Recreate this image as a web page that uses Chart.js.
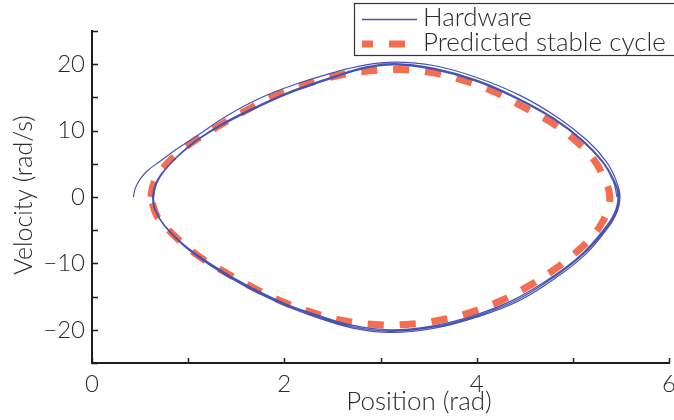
<!DOCTYPE html>
<html>
<head>
<meta charset="utf-8">
<script src="https://cdn.jsdelivr.net/npm/chart.js@4/dist/chart.umd.min.js"></script>
<style>
  html, body { margin: 0; padding: 0; background: #fff; }
  #wrap { width: 674px; height: 420px; }
</style>
</head>
<body>
<div id="wrap"><canvas id="c" width="674" height="420"></canvas></div>
<script>
// ---------- data ----------
const seriesLabels = ['Hardware', 'Predicted stable cycle'];
const xTitle = 'Position (rad)';
const yTitle = 'Velocity (rad/s)';

const xTickValues = [0, 1, 2, 3, 4, 5, 6];
const xTickLabels = ['0', '', '2', '', '4', '', '6'];
const yTickValues = [-25, -20, -15, -10, -5, 0, 5, 10, 15, 20, 25];
const yTickLabels = ['', '\u221220', '', '\u221210', '', '0', '', '10', '', '20', ''];

// Hardware: start-up transient (outer thin line) then several laps
const hwTransient = [
  [0.43, 0.0], [0.45, 1.3], [0.50, 2.7], [0.58, 4.0], [0.70, 5.3], [0.90, 7.4],
  [1.10, 9.3], [1.40, 12.2], [1.75, 14.9], [2.10, 16.9], [2.50, 18.7], [2.85, 19.9],
  [3.15, 20.3], [3.55, 19.8], [4.00, 18.0], [4.45, 15.3], [4.85, 11.9], [5.15, 8.5],
  [5.35, 5.3], [5.45, 2.5], [5.49, 0.0]
];
const hwLap1 = [
  [5.49, 0.0], [5.45, -2.6], [5.33, -5.3], [5.12, -8.8], [4.83, -12.1], [4.43, -15.7],
  [4.00, -18.1], [3.55, -19.8], [3.10, -20.4], [2.70, -19.7], [2.35, -18.2], [2.00, -16.3],
  [1.60, -13.5], [1.25, -10.5], [0.95, -7.3], [0.76, -4.4], [0.66, -1.9], [0.64, 0.0],
  [0.67, 2.0], [0.76, 4.1], [0.91, 6.4], [1.11, 8.8], [1.40, 11.4], [1.75, 13.9],
  [2.10, 16.1], [2.50, 18.1], [2.85, 19.6], [3.15, 20.1], [3.55, 19.4], [4.00, 17.6],
  [4.40, 15.1], [4.80, 11.9], [5.10, 8.6], [5.31, 5.4], [5.43, 2.5], [5.48, 0.0]
];
const hwLap2 = [
  [5.48, 0.0], [5.44, -2.6], [5.32, -5.2], [5.11, -8.6], [4.82, -11.9], [4.42, -15.5],
  [4.00, -17.9], [3.55, -19.6], [3.10, -20.2], [2.70, -19.5], [2.35, -18.0], [2.00, -16.1],
  [1.60, -13.3], [1.25, -10.3], [0.95, -7.2], [0.75, -4.3], [0.65, -1.8], [0.63, 0.0],
  [0.66, 2.0], [0.75, 4.0], [0.90, 6.3], [1.10, 8.7], [1.40, 11.3], [1.75, 13.8],
  [2.10, 16.0], [2.50, 18.0], [2.85, 19.5], [3.15, 20.0], [3.55, 19.3], [4.00, 17.5],
  [4.40, 15.0], [4.80, 11.8], [5.10, 8.5], [5.31, 5.3], [5.43, 2.4], [5.47, 0.0]
];
const hwLap3 = [
  [5.47, 0.0], [5.43, -2.5], [5.31, -5.1], [5.10, -8.5], [4.81, -11.8], [4.41, -15.3],
  [4.00, -17.7], [3.55, -19.4], [3.10, -20.0], [2.70, -19.3], [2.35, -17.8], [2.00, -16.0],
  [1.60, -13.2], [1.25, -10.2], [0.95, -7.1], [0.75, -4.2], [0.65, -1.8], [0.63, 0.0],
  [0.66, 2.0], [0.75, 4.0], [0.90, 6.2], [1.10, 8.6], [1.40, 11.2], [1.75, 13.7],
  [2.10, 15.9], [2.50, 17.9], [2.85, 19.4], [3.15, 19.9], [3.55, 19.2], [4.00, 17.4],
  [4.40, 14.9], [4.80, 11.7], [5.10, 8.4], [5.31, 5.2], [5.42, 2.4], [5.46, 0.0]
];

// Predicted stable cycle
const predicted = [
  [0.61, 0.0], [0.64, 2.0], [0.72, 4.0], [0.86, 6.2], [1.05, 8.3], [1.33, 10.8],
  [1.61, 13.1], [1.92, 15.4], [2.23, 17.0], [2.56, 18.3], [2.89, 19.0], [3.20, 19.2],
  [3.55, 18.7], [3.88, 17.5], [4.19, 15.8], [4.48, 13.6], [4.78, 11.2], [5.05, 8.2],
  [5.22, 5.6], [5.32, 3.0], [5.38, 0.6], [5.37, -1.6], [5.31, -3.7], [5.21, -5.8],
  [5.06, -8.0], [4.81, -10.9], [4.53, -13.5], [4.24, -15.7], [3.93, -17.4], [3.60, -18.6],
  [3.27, -19.2], [2.94, -19.2], [2.61, -18.6], [2.27, -17.3], [1.97, -15.7], [1.67, -13.6],
  [1.38, -11.3], [1.09, -8.7], [0.84, -5.6], [0.68, -3.0], [0.61, 0.0]
];

// ---------- styling ----------
const FONT = 'Lato, "Liberation Sans", sans-serif';
const TXT = '#2b2b2b';
const AX = '#1e1e1e';
const BLUE = '#4753b0';
const RED = '#f46d51';

const toPts = arr => arr.map(p => ({ x: p[0], y: p[1] }));
const hardwarePts = toPts([].concat(hwTransient, hwLap1.slice(1), hwLap2.slice(1), hwLap3.slice(1)));
const predictedPts = toPts(predicted);

const decorPlugin = {
  id: 'decor',
  afterDraw(chart) {
    const ctx = chart.ctx;
    const xs = chart.scales.x, ys = chart.scales.y;
    const a = chart.chartArea;
    ctx.save();
    // inward tick marks
    ctx.strokeStyle = AX;
    ctx.lineWidth = 1.5;
    ctx.beginPath();
    xTickValues.forEach(v => {
      const px = Math.round(xs.getPixelForValue(v)) + 0.5;
      ctx.moveTo(px, a.bottom);
      ctx.lineTo(px, a.bottom - 5);
    });
    yTickValues.forEach(v => {
      const py = Math.round(ys.getPixelForValue(v)) + 0.5;
      ctx.moveTo(a.left, py);
      ctx.lineTo(a.left + 6, py);
    });
    ctx.stroke();

    // axis titles
    ctx.fillStyle = TXT;
    ctx.textAlign = 'center';
    ctx.textBaseline = 'middle';
    ctx.font = '300 26px ' + FONT;
    ctx.fillText(xTitle, 419, 402);
    ctx.save();
    ctx.translate(24, 195);
    ctx.rotate(-Math.PI / 2);
    ctx.font = '300 25px ' + FONT;
    ctx.fillText(yTitle, 0, 0);
    ctx.restore();

    // legend
    const bx = 354, by = 3, bw = 340, bh = 52;
    ctx.fillStyle = '#ffffff';
    ctx.fillRect(bx, by, bw, bh);
    ctx.strokeStyle = '#333';
    ctx.lineWidth = 1.2;
    ctx.strokeRect(bx + 0.5, by + 0.5, bw, bh);

    ctx.strokeStyle = BLUE;
    ctx.lineWidth = 1.3;
    ctx.beginPath();
    ctx.moveTo(362, 19.5);
    ctx.lineTo(417, 19.5);
    ctx.stroke();

    ctx.strokeStyle = RED;
    ctx.lineWidth = 7;
    ctx.setLineDash([16, 16]);
    ctx.lineDashOffset = 5;
    ctx.beginPath();
    ctx.moveTo(362, 44);
    ctx.lineTo(417, 44);
    ctx.stroke();
    ctx.setLineDash([]);

    ctx.fillStyle = TXT;
    ctx.font = '300 26px ' + FONT;
    ctx.textAlign = 'left';
    ctx.textBaseline = 'middle';
    ctx.fillText(seriesLabels[0], 423, 18);
    ctx.fillText(seriesLabels[1], 423, 43);
    ctx.restore();
  }
};

new Chart(document.getElementById('c'), {
  type: 'scatter',
  data: {
    datasets: [
      {
        label: seriesLabels[0],
        data: hardwarePts,
        showLine: true,
        borderColor: BLUE,
        borderWidth: 1.2,
        pointRadius: 0,
        tension: 0.4,
        fill: false
      },
      {
        label: seriesLabels[1],
        data: predictedPts,
        showLine: true,
        borderColor: RED,
        borderWidth: 7,
        borderDash: [16, 16],
        borderCapStyle: 'butt',
        pointRadius: 0,
        tension: 0.4,
        fill: false
      }
    ]
  },
  options: {
    responsive: false,
    animation: false,
    devicePixelRatio: 1,
    layout: { padding: { top: 31, right: 5, left: 0, bottom: 0 } },
    plugins: { legend: { display: false }, tooltip: { enabled: false } },
    scales: {
      x: {
        type: 'linear', min: 0, max: 6,
        afterBuildTicks: s => { s.ticks = xTickValues.map(v => ({ value: v })); },
        afterFit: s => { s.height = 57; s.paddingLeft = 0; s.paddingRight = 0; },
        grid: { display: false, drawTicks: false },
        border: { display: true, color: AX, width: 2 },
        ticks: {
          callback: (v, i) => xTickLabels[i],
          autoSkip: false, maxRotation: 0, padding: 7,
          color: TXT, font: { family: FONT, size: 24, weight: 300 }
        }
      },
      y: {
        type: 'linear', min: -25, max: 25,
        afterBuildTicks: s => { s.ticks = yTickValues.map(v => ({ value: v })); },
        afterFit: s => { s.width = 92; s.paddingTop = 0; s.paddingBottom = 0; },
        grid: { display: false, drawTicks: false },
        border: { display: true, color: AX, width: 2 },
        ticks: {
          callback: (v, i) => yTickLabels[i],
          autoSkip: false, padding: 7,
          color: TXT, font: { family: FONT, size: 24, weight: 300 }
        }
      }
    }
  },
  plugins: [decorPlugin]
});
</script>
</body>
</html>
